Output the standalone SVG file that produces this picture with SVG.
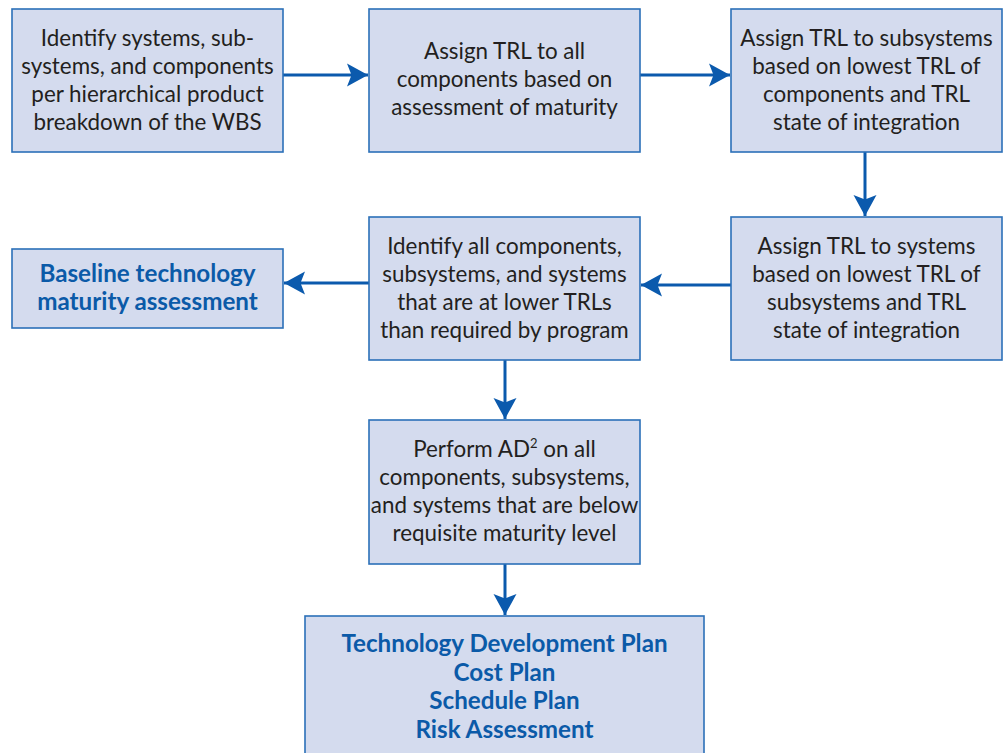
<svg xmlns="http://www.w3.org/2000/svg" width="1006" height="753" viewBox="0 0 1006 753">
<style>
.box{fill:#d4dbee;stroke:#2b70b8;stroke-width:1.6}
.t{font-family:Lato,"Liberation Sans",sans-serif;font-size:22.4px;fill:#231f20;text-anchor:middle}
.b{font-family:Lato,"Liberation Sans",sans-serif;font-size:24.2px;font-weight:bold;fill:#0b5aa8;text-anchor:middle}
.c{stroke:#0b5aad;stroke-width:3;fill:none}
</style>
<defs>
<marker id="ah" markerUnits="userSpaceOnUse" markerWidth="24" markerHeight="26" refX="21" refY="12" orient="auto" viewBox="0 0 24 24">
<path d="M0,0.5 L21,12 L0,23.5 L4.5,12 Z" fill="#0b5aad"/>
</marker>
</defs>
<rect width="1006" height="753" fill="#ffffff"/>
<g id="connectors">
<line class="c" x1="283" y1="75" x2="368" y2="75" marker-end="url(#ah)"/>
<line class="c" x1="640" y1="75" x2="730" y2="75" marker-end="url(#ah)"/>
<line class="c" x1="865" y1="152" x2="865" y2="216" marker-end="url(#ah)"/>
<line class="c" x1="731" y1="285" x2="641" y2="285" marker-end="url(#ah)"/>
<line class="c" x1="369" y1="283" x2="284" y2="283" marker-end="url(#ah)"/>
<line class="c" x1="505" y1="360" x2="505" y2="419" marker-end="url(#ah)"/>
<line class="c" x1="505" y1="564" x2="505" y2="615" marker-end="url(#ah)"/>
</g>
<g id="n1">
<rect class="box" x="12" y="9" width="271" height="143"/>
<text class="t"><tspan x="147.5" y="46">Identify systems, sub-</tspan><tspan x="147.5" y="74">systems, and components</tspan><tspan x="147.5" y="102">per hierarchical product</tspan><tspan x="147.5" y="130">breakdown of the WBS</tspan></text>
</g>
<g id="n2">
<rect class="box" x="369" y="9" width="271" height="143"/>
<text class="t"><tspan x="504.5" y="59">Assign TRL to all</tspan><tspan x="504.5" y="87">components based on</tspan><tspan x="504.5" y="115">assessment of maturity</tspan></text>
</g>
<g id="n3">
<rect class="box" x="731" y="9" width="271" height="143"/>
<text class="t"><tspan x="866.5" y="46">Assign TRL to subsystems</tspan><tspan x="866.5" y="74">based on lowest TRL of</tspan><tspan x="866.5" y="102">components and TRL</tspan><tspan x="866.5" y="130">state of integration</tspan></text>
</g>
<g id="n4">
<rect class="box" x="731" y="217" width="271" height="143"/>
<text class="t"><tspan x="866.5" y="254">Assign TRL to systems</tspan><tspan x="866.5" y="282">based on lowest TRL of</tspan><tspan x="866.5" y="310">subsystems and TRL</tspan><tspan x="866.5" y="338">state of integration</tspan></text>
</g>
<g id="n5">
<rect class="box" x="369" y="217" width="271" height="143"/>
<text class="t"><tspan x="504.5" y="254">Identify all components,</tspan><tspan x="504.5" y="282">subsystems, and systems</tspan><tspan x="504.5" y="310">that are at lower TRLs</tspan><tspan x="504.5" y="338">than required by program</tspan></text>
</g>
<g id="n6">
<rect class="box" x="12" y="249" width="271" height="79"/>
<text class="b"><tspan x="147.5" y="282">Baseline technology</tspan><tspan x="147.5" y="310">maturity assessment</tspan></text>
</g>
<g id="n7">
<rect class="box" x="369" y="420" width="271" height="144"/>
<text class="t"><tspan x="504.5" y="457">Perform AD<tspan font-size="13" dy="-9">2</tspan><tspan dy="9"> on all</tspan></tspan><tspan x="504.5" y="485">components, subsystems,</tspan><tspan x="504.5" y="513">and systems that are below</tspan><tspan x="504.5" y="541">requisite maturity level</tspan></text>
</g>
<g id="n8">
<rect class="box" x="305" y="616" width="399" height="145"/>
<text class="b"><tspan x="504.5" y="652">Technology Development Plan</tspan><tspan x="504.5" y="680.5">Cost Plan</tspan><tspan x="504.5" y="709">Schedule Plan</tspan><tspan x="504.5" y="737.5">Risk Assessment</tspan></text>
</g>
</svg>
